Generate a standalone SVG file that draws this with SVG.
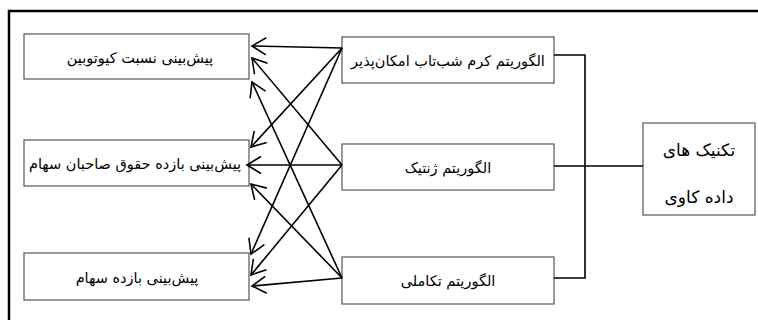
<svg xmlns="http://www.w3.org/2000/svg" width="758" height="320" viewBox="0 0 758 320">
<style>
.box{fill:#fff;stroke:#555;stroke-width:1.2}
.t{font-family:"DejaVu Sans",sans-serif;font-size:14.5px;fill:#000;text-anchor:middle;dominant-baseline:central}
.big{font-size:17px}
.c{fill:none;stroke:#000;stroke-width:1.6}
.a{fill:none;stroke:#000;stroke-width:1.6;marker-end:url(#ah)}
</style>
<defs>
<marker id="ah" markerUnits="userSpaceOnUse" markerWidth="20" markerHeight="20" refX="15" refY="10" orient="auto" viewBox="0 0 20 20">
<path d="M1,1.5 L15,10 L1,18.5" fill="none" stroke="#000" stroke-width="1.6"/>
</marker>
</defs>
<rect width="758" height="320" fill="#fff"/>
<path d="M9,320 V11 H758" fill="none" stroke="#000" stroke-width="2.5"/>
<g id="l1"><rect class="box" x="24" y="34" width="225" height="45"/><text class="t" x="140" y="58">پیش&#x200C;بینی نسبت کیوتوبین</text></g>
<g id="l2"><rect class="box" x="24" y="140" width="225" height="46"/><text class="t" x="135" y="164">پیش&#x200C;بینی بازده حقوق صاحبان سهام</text></g>
<g id="l3"><rect class="box" x="24" y="253" width="225" height="47"/><text class="t" x="137" y="278">پیش&#x200C;بینی بازده سهام</text></g>
<g id="m1"><rect class="box" x="342" y="37" width="212" height="46"/><text class="t" x="448" y="61">الگوریتم کرم شب&#x200C;تاب امکان&#x200C;پذیر</text></g>
<g id="m2"><rect class="box" x="342" y="144" width="212" height="46"/><text class="t" x="448" y="168">الگوریتم ژنتیک</text></g>
<g id="m3"><rect class="box" x="342" y="257" width="212" height="47"/><text class="t" x="448" y="281">الگوریتم تکاملی</text></g>
<g id="r"><rect class="box" x="643" y="123" width="112" height="92"/><text class="t big" x="699" y="150">تکنیک های</text><text class="t big" x="699" y="197">داده کاوی</text></g>
<g id="connectors">
<path class="c" d="M554,55 H585 V278 H554"/>
<path class="c" d="M554,166 H643"/>
<line class="a" x1="342" y1="48" x2="252" y2="46"/>
<line class="a" x1="342" y1="48" x2="251" y2="147"/>
<line class="a" x1="342" y1="48" x2="251" y2="254"/>
<line class="a" x1="342" y1="165" x2="252" y2="58"/>
<line class="a" x1="342" y1="165" x2="247" y2="165"/>
<line class="a" x1="342" y1="165" x2="251" y2="275"/>
<line class="a" x1="342" y1="278" x2="252" y2="82"/>
<line class="a" x1="342" y1="278" x2="251" y2="184"/>
<line class="a" x1="342" y1="278" x2="252" y2="286"/>
</g>
</svg>
